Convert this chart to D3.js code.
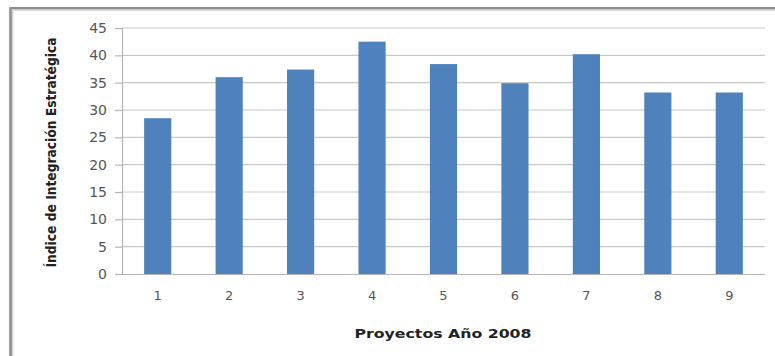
<!DOCTYPE html>
<html>
<head>
<meta charset="utf-8">
<script src="https://cdn.jsdelivr.net/npm/d3@7"></script>
<style>
  html, body { margin: 0; padding: 0; background: #fff; }
  svg { display: block; }
</style>
</head>
<body>
<svg id="chart" width="775" height="356"></svg>
<script>
// Proyectos del año 2008 y su índice de integración estratégica
const categories = ["1", "2", "3", "4", "5", "6", "7", "8", "9"];
const values = [28.5, 36.0, 37.4, 42.5, 38.4, 34.9, 40.2, 33.2, 33.2];
const yTicks = [0, 5, 10, 15, 20, 25, 30, 35, 40, 45];
const yTitle = "Índice de Integración Estratégica";
const xTitle = "Proyectos Año 2008";

const svg = d3.select("#chart");
const W = 775, H = 356;
const plot = { left: 122, right: 765, top: 28, bottom: 274 };

// Marco exterior (bordes superior e izquierdo con sombra)
svg.append("rect").attr("x", 0).attr("y", 0).attr("width", W).attr("height", H).attr("fill", "#fff");
svg.append("rect").attr("x", 9).attr("y", 7).attr("width", W - 9).attr("height", 2.5).attr("fill", "#8c8c8c");
svg.append("rect").attr("x", 9).attr("y", 9.5).attr("width", W - 9).attr("height", 1.5).attr("fill", "#d4d4d4");
svg.append("rect").attr("x", 9).attr("y", 7).attr("width", 3).attr("height", H - 7).attr("fill", "#9a9a9a");
svg.append("rect").attr("x", 12).attr("y", 9).attr("width", 1.5).attr("height", H - 9).attr("fill", "#d8d8d8");

const x = d3.scaleBand()
  .domain(categories)
  .range([plot.left, plot.right])
  .paddingInner(0.62)
  .paddingOuter(0.31);

const y = d3.scaleLinear()
  .domain([0, 45])
  .range([plot.bottom, plot.top]);

// Líneas de cuadrícula horizontales
svg.append("g")
  .selectAll("line")
  .data(yTicks.filter(d => d > 0))
  .join("line")
  .attr("x1", plot.left)
  .attr("x2", plot.right)
  .attr("y1", d => y(d))
  .attr("y2", d => y(d))
  .attr("stroke", "#c8c8c8")
  .attr("stroke-width", 1.2);

// Eje vertical
const yAxis = d3.axisLeft(y).tickValues(yTicks).tickSize(7).tickPadding(8);
const gy = svg.append("g").attr("transform", `translate(${plot.left},0)`).call(yAxis);
gy.select(".domain").attr("stroke", "#b5b5b5").attr("stroke-width", 1.2);
gy.selectAll(".tick line").attr("stroke", "#b5b5b5").attr("stroke-width", 1.2);
gy.selectAll(".tick text")
  .attr("fill", "#555")
  .attr("font-family", "'DejaVu Sans', Verdana, sans-serif")
  .attr("font-size", 14);

// Barras
svg.append("g")
  .selectAll("rect")
  .data(values)
  .join("rect")
  .attr("x", (d, i) => x(categories[i]))
  .attr("y", d => y(d))
  .attr("width", x.bandwidth())
  .attr("height", d => y(0) - y(d))
  .attr("fill", "#4f81bd");

// Eje horizontal
const xAxis = d3.axisBottom(x).tickSize(0).tickPadding(17);
const gx = svg.append("g").attr("transform", `translate(0,${plot.bottom})`).call(xAxis);
gx.select(".domain").attr("stroke", "#b5b5b5").attr("stroke-width", 1.2)
  .attr("d", `M${plot.left - 7},0.5H${plot.right}`);
gx.selectAll(".tick text")
  .attr("fill", "#555")
  .attr("font-family", "'DejaVu Sans', Verdana, sans-serif")
  .attr("font-size", 13);

// Títulos de los ejes
svg.append("text")
  .attr("transform", `translate(56,${(37 + 268) / 2}) rotate(-90)`)
  .attr("text-anchor", "middle")
  .attr("font-family", "'DejaVu Sans Condensed', 'Liberation Sans Narrow', sans-serif")
  .attr("font-weight", "bold")
  .attr("font-size", 14)
  .attr("fill", "#222")
  .attr("textLength", 230)
  .attr("lengthAdjust", "spacingAndGlyphs")
  .text(yTitle);

svg.append("text")
  .attr("x", 443)
  .attr("y", 338)
  .attr("text-anchor", "middle")
  .attr("font-family", "'DejaVu Sans', Verdana, sans-serif")
  .attr("font-weight", "bold")
  .attr("font-size", 13)
  .attr("fill", "#222")
  .attr("textLength", 177)
  .attr("lengthAdjust", "spacingAndGlyphs")
  .text(xTitle);
</script>
</body>
</html>
